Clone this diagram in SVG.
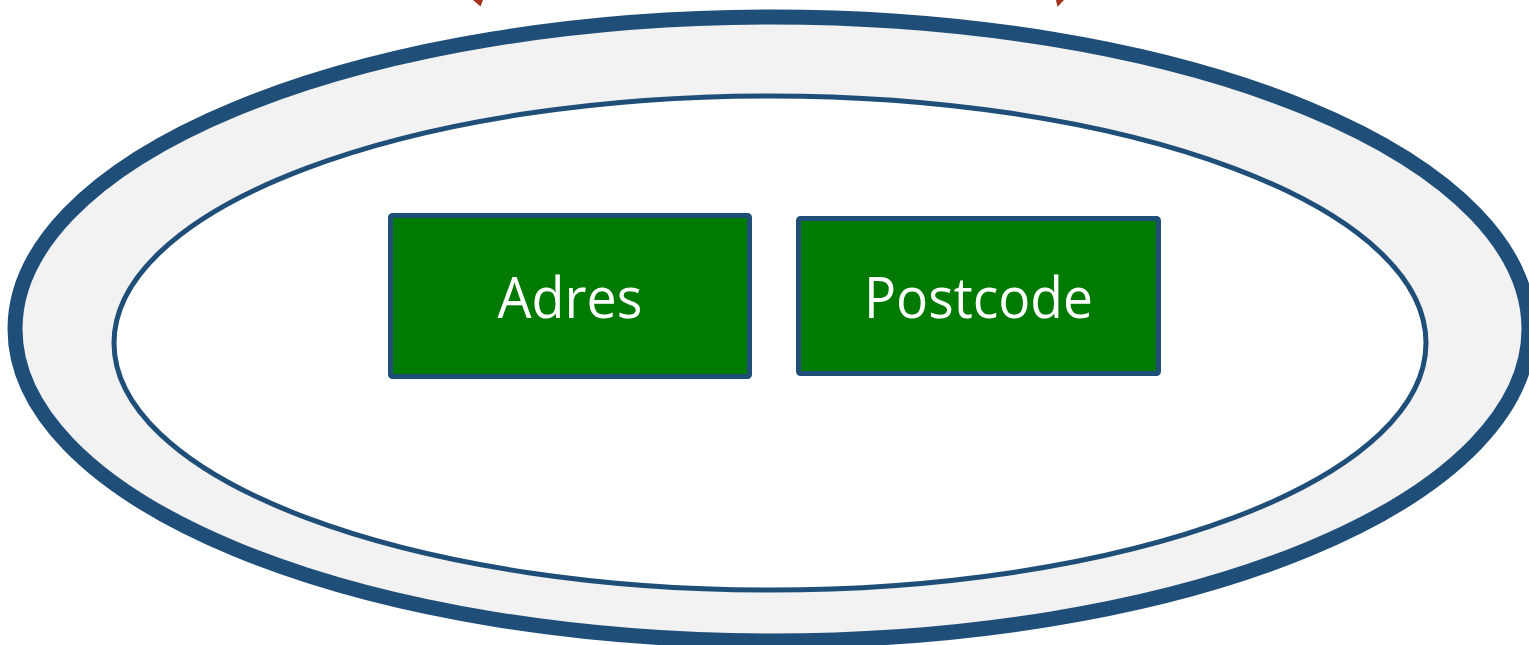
<svg xmlns="http://www.w3.org/2000/svg" width="1529" height="645" viewBox="0 0 1529 645">
  <style>
    .ring { fill: #F2F2F2; stroke: #1F4E79; stroke-width: 15; }
    .inner { fill: #FFFFFF; stroke: #1F4E79; stroke-width: 5; }
    .box { fill: #007A00; stroke: #1F4E79; stroke-width: 5; }
    .label { fill: #FFFFFF; font-family: "Open Sans", "Liberation Sans", sans-serif; font-size: 56px; text-anchor: middle; }
    .head { fill: #A5341F; }
  </style>

  <!-- connectors entering from above -->
  <g id="connectors">
    <polygon class="head" points="473,0 483,0 480.5,6.5"/>
    <polygon class="head" points="1056,0 1064,0 1057.5,7"/>
  </g>

  <!-- outer container -->
  <g id="container">
    <ellipse class="ring" cx="772" cy="329" rx="757" ry="312"/>
    <ellipse class="inner" cx="770" cy="343" rx="656" ry="247"/>
  </g>

  <g id="node-adres">
    <rect class="box" x="390.5" y="215.5" width="359" height="161" rx="2"/>
    <text class="label" x="570" y="318" textLength="145" lengthAdjust="spacingAndGlyphs">Adres</text>
  </g>

  <g id="node-postcode">
    <rect class="box" x="798.5" y="218.5" width="360" height="155" rx="2"/>
    <text class="label" x="978.5" y="318" textLength="229" lengthAdjust="spacingAndGlyphs">Postcode</text>
  </g>
</svg>
